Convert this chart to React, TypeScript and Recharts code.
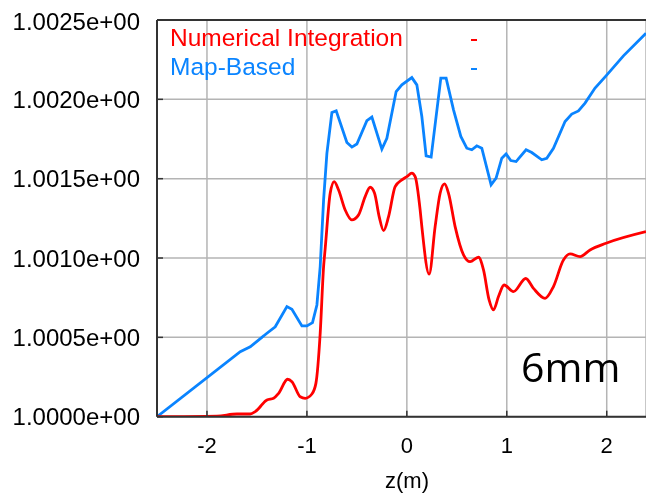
import React from "react";
import { LineChart, Line, XAxis, YAxis, CartesianGrid, ReferenceLine } from "recharts";

// z positions (m) and values
const mapZ = [
  -2.5, -1.667, -1.567, -1.4, -1.317, -1.2, -1.15, -1.05, -1.0, -0.944, -0.9, -0.867, -0.833, -0.8, -0.75,
  -0.707, -0.6, -0.55, -0.5, -0.4, -0.35, -0.25, -0.2, -0.107, -0.05, 0.05, 0.1, 0.15, 0.193, 0.243, 0.34,
  0.393, 0.467, 0.54, 0.6, 0.65, 0.7, 0.75, 0.843, 0.893, 0.95, 0.993, 1.04, 1.093, 1.193, 1.25, 1.35, 1.4,
  1.467, 1.583, 1.65, 1.717, 1.783, 1.883, 1.993, 2.167, 2.393,
];
const mapValues = [
  1.0, 1.00041, 1.000441, 1.000526, 1.000567, 1.000694, 1.000677, 1.000572, 1.000572, 1.000593, 1.000704,
  1.000946, 1.001366, 1.00166, 1.001917, 1.001927, 1.001728, 1.001699, 1.001719, 1.001866, 1.001888,
  1.001686, 1.001755, 1.002049, 1.002091, 1.002137, 1.002091, 1.001892, 1.001644, 1.001636, 1.002134,
  1.002134, 1.001934, 1.001766, 1.001692, 1.001682, 1.001707, 1.001692, 1.001461, 1.001503, 1.001629,
  1.001656, 1.001614, 1.001608, 1.001682, 1.001665, 1.001619, 1.001629, 1.001692, 1.00186, 1.001907,
  1.001927, 1.001976, 1.002071, 1.002148, 1.002274, 1.002417,
];

const numZ = [
  -2.5, -1.9, -1.7, -1.567, -1.517, -1.4, -1.333, -1.283, -1.193, -1.15, -1.067, -1.017, -0.95, -0.91,
  -0.867, -0.833, -0.817, -0.767, -0.727, -0.683, -0.617, -0.55, -0.483, -0.417, -0.367, -0.323, -0.277,
  -0.233, -0.183, -0.117, -0.05, 0.0, 0.05, 0.083, 0.133, 0.15, 0.223, 0.283, 0.333, 0.377, 0.417, 0.483,
  0.567, 0.633, 0.717, 0.767, 0.823, 0.867, 0.917, 0.973, 1.067, 1.19, 1.267, 1.383, 1.467, 1.567, 1.633,
  1.733, 1.833, 1.993, 2.393,
];
const numValues = [
  1.0, 1.000004, 1.000017, 1.000017, 1.000032, 1.000105, 1.000116, 1.000147, 1.000236, 1.000221, 1.000126,
  1.000116, 1.000143, 1.00021, 1.000526, 1.000946, 1.00106, 1.001408, 1.001482, 1.001429, 1.001303,
  1.00124, 1.001272, 1.001387, 1.001446, 1.001408, 1.001261, 1.001173, 1.001261, 1.00145, 1.001492,
  1.001513, 1.001535, 1.001513, 1.001303, 1.001198, 1.000898, 1.001198, 1.001408, 1.001467, 1.001408,
  1.001198, 1.00102, 1.000977, 1.001005, 1.000925, 1.000736, 1.000673, 1.000757, 1.00083, 1.000788,
  1.000871, 1.000809, 1.000746, 1.00082, 1.000988, 1.001026, 1.001009, 1.001051, 1.001093, 1.001166,
];

const zTicks = [-2, -1, 0, 1, 2];
const yTicks = [1.0, 1.0005, 1.001, 1.0015, 1.002, 1.0025];

const series = [
  { name: "Numerical Integration", color: "#ff0000" },
  { name: "Map-Based", color: "#0a84ff" },
];

const numData = numZ.map((z, i) => ({ z, v: numValues[i] }));
const mapData = mapZ.map((z, i) => ({ z, v: mapValues[i] }));

const font = "'Liberation Sans', Arial, sans-serif";

const fmt = (v: number) => v.toExponential(4).replace(/e\+(\d)$/, "e+0$1");

export default function App() {
  return (
    <div style={{ position: "fixed", left: 8, top: 8, width: 638, height: 485, overflow: "hidden" }}>
      <LineChart width={638} height={485} margin={{ top: 12, right: 0, left: 0, bottom: 0 }}>
        <CartesianGrid stroke="#b4b4b4" strokeWidth={1.5} />
        <XAxis
          dataKey="z"
          type="number"
          domain={[-2.5, 2.393]}
          allowDataOverflow
          ticks={zTicks}
          height={76.3}
          axisLine={{ stroke: "#333", strokeWidth: 2 }}
          tickLine={{ stroke: "#333", strokeWidth: 1.5 }}
          tickSize={-6}
          tickMargin={27}
          tick={{ fill: "#000", fontSize: 22, fontFamily: font }}
        />
        <XAxis
          xAxisId="top"
          orientation="top"
          type="number"
          domain={[-2.5, 2.393]}
          allowDataOverflow
          ticks={zTicks}
          height={0}
          axisLine={{ stroke: "#333", strokeWidth: 2 }}
          tickLine={{ stroke: "#333", strokeWidth: 1.5 }}
          tickSize={-6}
          tick={false}
        />
        <YAxis
          type="number"
          domain={[1.0, 1.0025]}
          allowDataOverflow
          ticks={yTicks}
          width={149}
          axisLine={{ stroke: "#333", strokeWidth: 2 }}
          tickLine={{ stroke: "#333", strokeWidth: 1.5 }}
          tickSize={-6}
          tickMargin={23}
          tickFormatter={fmt}
          tick={{ fill: "#000", fontSize: 24, fontFamily: font }}
        />
        <ReferenceLine y={1.0025} stroke="#333" strokeWidth={2} />
        <Line
          data={mapData}
          dataKey="v"
          name="Map-Based"
          type="linear"
          stroke={series[1].color}
          strokeWidth={2.8}
          dot={false}
          isAnimationActive={false}
        />
        <Line
          data={numData}
          dataKey="v"
          name="Numerical Integration"
          type="monotone"
          stroke={series[0].color}
          strokeWidth={2.8}
          dot={false}
          isAnimationActive={false}
        />
      </LineChart>

      {/* legend inside the plot, top left */}
      <div
        style={{
          position: "absolute",
          left: 162,
          top: 16,
          width: 320,
          fontFamily: font,
          fontSize: 24.5,
          lineHeight: "28.5px",
        }}
      >
        {series.map((s) => (
          <div key={s.name} style={{ color: s.color, position: "relative", whiteSpace: "nowrap" }}>
            {s.name}
            <span
              style={{ position: "absolute", left: 301, top: 15, width: 6, height: 2, background: s.color }}
            />
          </div>
        ))}
      </div>

      <div
        style={{
          position: "absolute",
          left: 299,
          top: 462,
          width: 200,
          textAlign: "center",
          fontFamily: font,
          fontSize: 22,
          lineHeight: "22px",
          color: "#000",
        }}
      >
        z(m)
      </div>

      <div
        style={{
          position: "absolute",
          left: 513,
          top: 338,
          fontFamily: "'Open Sans', sans-serif",
          fontSize: 41,
          lineHeight: "41px",
          color: "#000",
        }}
      >
        6mm
      </div>
    </div>
  );
}
